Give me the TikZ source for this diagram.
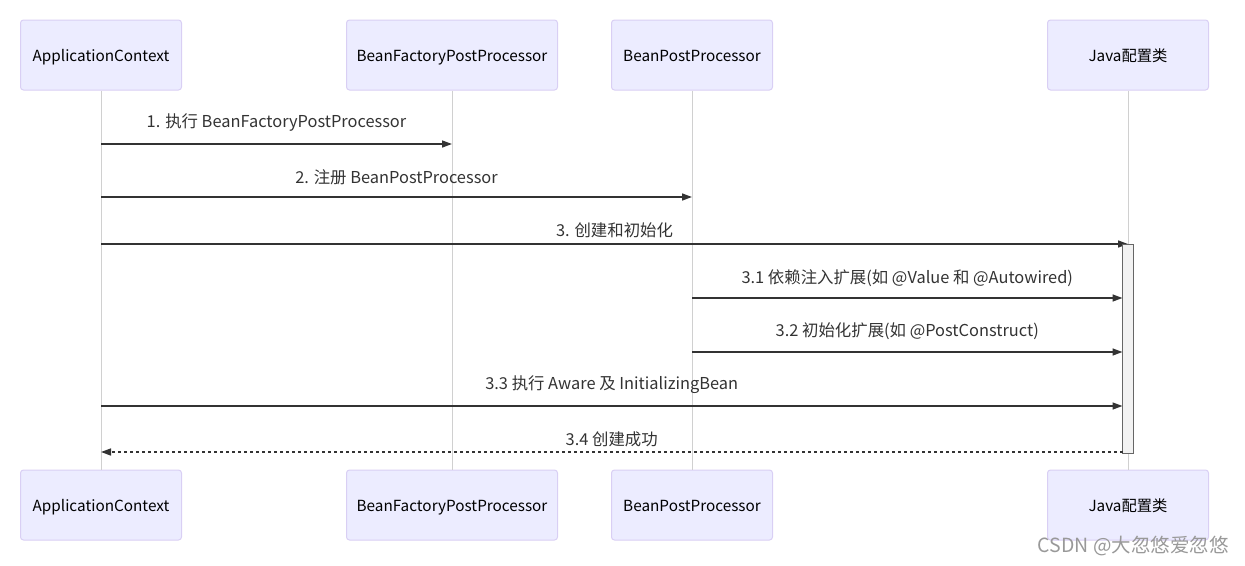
\documentclass[tikz,border=0pt]{standalone}
\usepackage{fontspec}
\setmainfont{Noto Sans CJK SC}
\usetikzlibrary{arrows.meta,calc}
\definecolor{actfill}{HTML}{ECECFF}
\definecolor{actline}{HTML}{D9CFF4}
\definecolor{msgline}{HTML}{333333}
\definecolor{lifegray}{HTML}{D0D0D0}
\newcommand*{\yTop}{55}
\newcommand*{\yBot}{505}

\begin{document}
\begin{tikzpicture}[x=1pt,y=-1pt,font=\fontsize{15.3}{18}\selectfont,
	actor/.style={draw=actline,fill=actfill,rounded corners=3pt,minimum height=70pt,line width=1pt,text height=13pt,text depth=1pt},
	lifeline/.style={draw=lifegray,line width=1pt},
	msg/.style={draw=msgline,line width=1.5pt,-{Triangle[length=10pt,width=7pt]}},
	msglabel/.style={text=msgline,inner sep=0pt,font=\fontsize{16.4}{19}\selectfont},
	actbar/.style={inner sep=0pt,outer sep=0pt,minimum width=11pt,minimum height=209pt}]
\useasboundingbox (0,0) rectangle (1245,565);

% actors top and bottom, with lifelines
\foreach \n/\x/\w/\t in {ac/101/161/ApplicationContext,bfpp/452/211/BeanFactoryPostProcessor,bpp/692/161/BeanPostProcessor,cfg/1128/161/Java配置类} {
	\node[actor,minimum width=\w pt] (\n T) at (\x,\yTop) {\t};
	\node[actor,minimum width=\w pt] (\n B) at (\x,\yBot) {\t};
	\draw[lifeline] (\n T) -- (\n B);
}

% activation of the config class (drawn later, on top)
\node[actbar] (act) at (1128,348.5) {};

% messages
\foreach \y/\a/\b/\dy/\t in {144/acT/bfppT/21/{1. 执行 BeanFactoryPostProcessor},
		197/acT/bppT/20/{2. 注册 BeanPostProcessor},
		244/acT/cfgT/14/{3. 创建和初始化},
		298/bppT/act.west/20/{3.1 依赖注入扩展(如 @Value 和 @Autowired)},
		352/bppT/act.west/21/{3.2 初始化扩展(如 @PostConstruct)},
		406/acT/act.west/21/{3.3 执行 Aware 及 InitializingBean}} {
	\coordinate (m) at (0,\y);
	\draw[msg] (\a |- m) -- (\b |- m) node[msglabel,midway,yshift=\dy pt] {\t};
}

\node[actbar,draw=black!60,fill=black!5,line width=1pt] (actv) at (act) {};

% return
\coordinate (r) at (0,452);
\draw[msg,dash pattern=on 3pt off 3pt] (act.west |- r) -- (acT |- r) node[msglabel,midway,yshift=13pt] {3.4 创建成功};

\node[text=black!40,font=\fontsize{19.5}{22}\selectfont,anchor=east,inner sep=0pt] (wm) at (1229,546) {CSDN @大忽悠爱忽悠};
\end{tikzpicture}
\end{document}
